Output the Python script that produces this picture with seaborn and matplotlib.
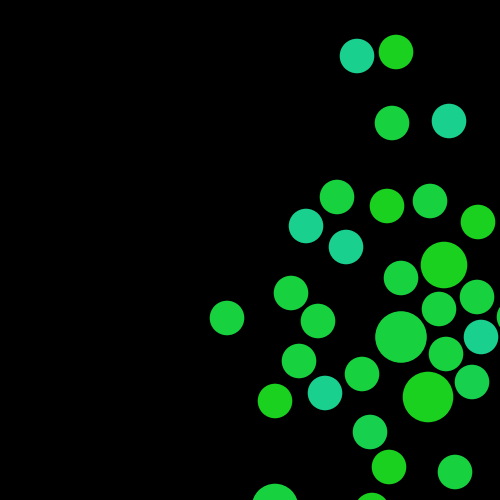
import pandas as pd
import matplotlib
matplotlib.use("Agg")
import matplotlib.pyplot as plt
import seaborn as sns

# bubble centres (pixel-like units, y grows downwards), radius and colour group
x_pos = [357, 396, 392, 449, 337, 306, 387, 430, 478, 346, 444, 401, 291, 227, 318, 439,
         477, 514, 401, 481, 299, 446, 362, 325, 275, 428, 472, 370, 389, 455, 275, 372]
y_pos = [56, 52, 123, 121, 197, 226, 206, 201, 222, 247, 265, 278, 293, 318, 321, 309,
         297, 317, 337, 337, 361, 354, 374, 393, 401, 397, 382, 432, 467, 472, 507, 510]
radius = [18, 18, 18, 18, 18, 18, 18, 18, 18, 18, 24, 18, 18, 18, 18, 18,
          18, 18, 26.5, 18, 18, 18, 18, 18, 18, 26, 18, 18, 18, 18, 24, 18]
group = ["teal", "lime", "green", "teal", "green", "teal", "lime", "green",
         "lime", "teal", "lime", "green", "green", "green", "green", "green",
         "green", "green", "green", "teal", "green", "green", "green", "teal",
         "lime", "lime", "mid", "mid", "lime", "green", "green", "lime"]

palette = {"teal": "#19d08f", "lime": "#1ad11f", "green": "#18d13e", "mid": "#16d04e"}

DPI = 100
df = pd.DataFrame({"x": x_pos, "y": y_pos, "r": radius, "group": group})
# marker area in points^2 from radius in pixels
df["area"] = (2 * df["r"] * 72 / DPI) ** 2

fig = plt.figure(figsize=(5, 5), dpi=DPI, facecolor="black")
ax = fig.add_axes([0, 0, 1, 1])
ax.set_facecolor("black")

sns.scatterplot(data=df, x="x", y="y", hue="group", palette=palette,
                size="area", sizes=(df["area"].min(), df["area"].max()),
                edgecolor=(0, 0, 0, 0.25), linewidth=1, alpha=1,
                legend=False, ax=ax)

ax.set_xlim(0, 500)
ax.set_ylim(500, 0)
ax.set_axis_off()

fig.savefig("out.png", dpi=DPI, facecolor="black")
